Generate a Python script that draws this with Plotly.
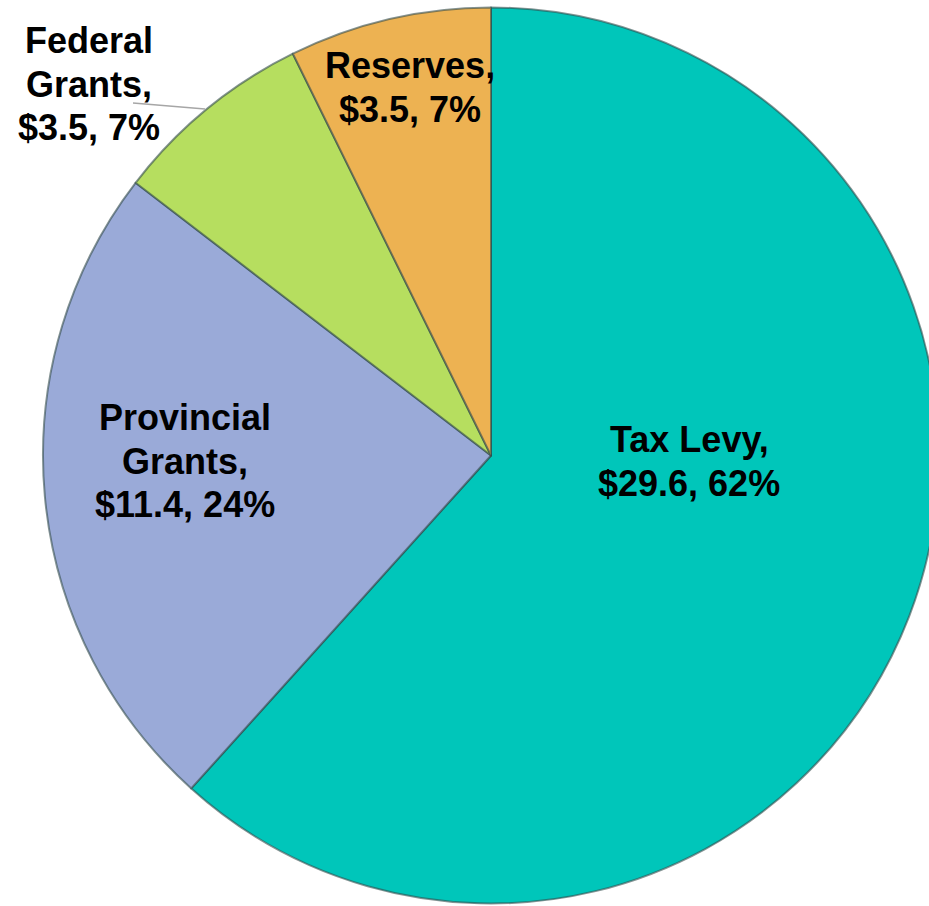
import plotly.graph_objects as go

# Revenue sources ($ millions)
labels = ["Tax Levy", "Provincial Grants", "Federal Grants", "Reserves"]
values = [29.6, 11.4, 3.5, 3.5]
colors = ["#00C6BA", "#9AAAD8", "#B6DE5F", "#EDB252"]

# Wrapped name lines for each slice label
name_lines = [["Tax Levy,"], ["Provincial", "Grants,"], ["Federal", "Grants,"], ["Reserves,"]]

W, H = 982, 906
FONT_SIZE = 36
LINE_GAP = 43.5
total = sum(values)

fig = go.Figure(
    go.Pie(
        labels=labels,
        values=values,
        sort=False,
        direction="clockwise",
        rotation=0,
        textinfo="none",
        hoverinfo="label+value+percent",
        marker=dict(colors=colors, line=dict(color="rgba(50,75,75,0.6)", width=2)),
        domain=dict(x=[0, 1], y=[2.5 / H, 1 - 7.5 / H]),
        showlegend=False,
    )
)

# Label placement in pixels: centre x and first baseline y of each block
label_px = [(689, 452), (185, 430), (89, 53), (410, 78)]

for lines, v, (px, base) in zip(name_lines, values, label_px):
    pct = round(v / total * 100)
    all_lines = lines + [f"${v:.1f}, {pct}%"]
    for i, line in enumerate(all_lines):
        baseline = base + i * LINE_GAP
        mid = baseline - 0.3465 * FONT_SIZE
        fig.add_annotation(
            x=px / W,
            y=1 - mid / H,
            xref="paper",
            yref="paper",
            xanchor="center",
            yanchor="middle",
            text=f"<b>{line}</b>",
            showarrow=False,
            font=dict(family="Liberation Sans, Arial, sans-serif", size=FONT_SIZE, color="#000000"),
        )

# Leader line for the outside label
fig.add_shape(
    type="line",
    xref="paper",
    yref="paper",
    x0=133 / W,
    y0=1 - 103 / H,
    x1=205 / W,
    y1=1 - 109 / H,
    line=dict(color="#A6A6A6", width=1.5),
)

fig.update_layout(
    width=W,
    height=H,
    margin=dict(l=0, r=0, t=0, b=0),
    paper_bgcolor="white",
    plot_bgcolor="white",
)

fig.write_html(
    "out.html",
    post_script=(
        "document.documentElement.style.overflow='hidden';"
        "document.body.style.overflow='hidden';"
        "document.body.style.margin='0';"
    ),
)
